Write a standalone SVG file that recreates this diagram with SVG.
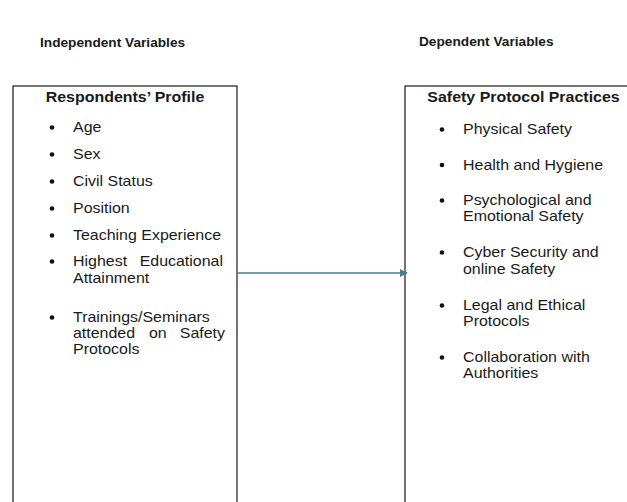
<svg xmlns="http://www.w3.org/2000/svg" width="627" height="502" viewBox="0 0 627 502">
  <style>
    text { font-family: "Liberation Sans", Arial, sans-serif; fill: #1a1a1a; }
    .hdr { font-size: 12px; font-weight: bold; }
    .ttl { font-size: 14px; font-weight: bold; text-anchor: middle; }
    .itm { font-size: 14px; }
    .end { text-anchor: end; }
    .box { fill: #ffffff; stroke: #1a1a1a; stroke-width: 1.2; }
    .bul { fill: #111111; }
    .conn { stroke: #4a7d8e; stroke-width: 1.6; fill: none; }
  </style>
  <defs>
    <marker id="arrow" viewBox="0 0 10 10" refX="9" refY="5" markerWidth="5" markerHeight="5" orient="auto" markerUnits="strokeWidth">
      <path d="M0,0 L10,5 L0,10 z" fill="#4a7d8e"/>
    </marker>
  </defs>
  <rect width="627" height="502" fill="#ffffff"/>

  <g id="headers">
    <text class="hdr" transform="translate(40 47) scale(1.14 1)">Independent Variables</text>
    <text class="hdr" transform="translate(419 46) scale(1.14 1)">Dependent Variables</text>
  </g>

  <g id="node-respondents-profile">
    <rect class="box" x="13" y="86" width="224" height="430"/>
    <text class="ttl" transform="translate(125 102) scale(1.14 1)">Respondents’ Profile</text>
    <circle class="bul" cx="52" cy="127.5" r="2.3"/>
    <text class="itm" transform="translate(73 132) scale(1.14 1)">Age</text>
    <circle class="bul" cx="52" cy="154.5" r="2.3"/>
    <text class="itm" transform="translate(73 159) scale(1.14 1)">Sex</text>
    <circle class="bul" cx="52" cy="181.5" r="2.3"/>
    <text class="itm" transform="translate(73 186) scale(1.14 1)">Civil Status</text>
    <circle class="bul" cx="52" cy="208.5" r="2.3"/>
    <text class="itm" transform="translate(73 213) scale(1.14 1)">Position</text>
    <circle class="bul" cx="52" cy="235.5" r="2.3"/>
    <text class="itm" transform="translate(73 240) scale(1.14 1)">Teaching Experience</text>
    <circle class="bul" cx="52" cy="261.5" r="2.3"/>
    <text class="itm" transform="translate(73 266) scale(1.14 1)">Highest</text>
    <text class="itm end" transform="translate(223 266) scale(1.14 1)">Educational</text>
    <text class="itm" transform="translate(73 282.5) scale(1.14 1)">Attainment</text>
    <circle class="bul" cx="52" cy="317.5" r="2.3"/>
    <text class="itm" transform="translate(73 322) scale(1.14 1)">Trainings/Seminars</text>
    <text class="itm" transform="translate(73 338) scale(1.14 1)">attended</text>
    <text class="itm" transform="translate(149 338) scale(1.14 1)">on</text>
    <text class="itm end" transform="translate(225 338) scale(1.14 1)">Safety</text>
    <text class="itm" transform="translate(73 354) scale(1.14 1)">Protocols</text>
  </g>

  <g id="node-safety-protocol-practices">
    <rect class="box" x="405" y="86" width="240" height="430"/>
    <text class="ttl" transform="translate(523.5 102) scale(1.14 1)">Safety Protocol Practices</text>
    <circle class="bul" cx="442" cy="129.5" r="2.3"/>
    <text class="itm" transform="translate(463 134) scale(1.14 1)">Physical Safety</text>
    <circle class="bul" cx="442" cy="165" r="2.3"/>
    <text class="itm" transform="translate(463 169.5) scale(1.14 1)">Health and Hygiene</text>
    <circle class="bul" cx="442" cy="200.5" r="2.3"/>
    <text class="itm" transform="translate(463 205) scale(1.14 1)">Psychological and</text>
    <text class="itm" transform="translate(463 221) scale(1.14 1)">Emotional Safety</text>
    <circle class="bul" cx="442" cy="252.5" r="2.3"/>
    <text class="itm" transform="translate(463 257) scale(1.14 1)">Cyber Security and</text>
    <text class="itm" transform="translate(463 273.5) scale(1.14 1)">online Safety</text>
    <circle class="bul" cx="442" cy="305.5" r="2.3"/>
    <text class="itm" transform="translate(463 310) scale(1.14 1)">Legal and Ethical</text>
    <text class="itm" transform="translate(463 326) scale(1.14 1)">Protocols</text>
    <circle class="bul" cx="442" cy="357.5" r="2.3"/>
    <text class="itm" transform="translate(463 362) scale(1.14 1)">Collaboration with</text>
    <text class="itm" transform="translate(463 378) scale(1.14 1)">Authorities</text>
  </g>

  <g id="connectors">
    <line class="conn" x1="237.6" y1="273" x2="407" y2="273" marker-end="url(#arrow)"/>
  </g>
</svg>
